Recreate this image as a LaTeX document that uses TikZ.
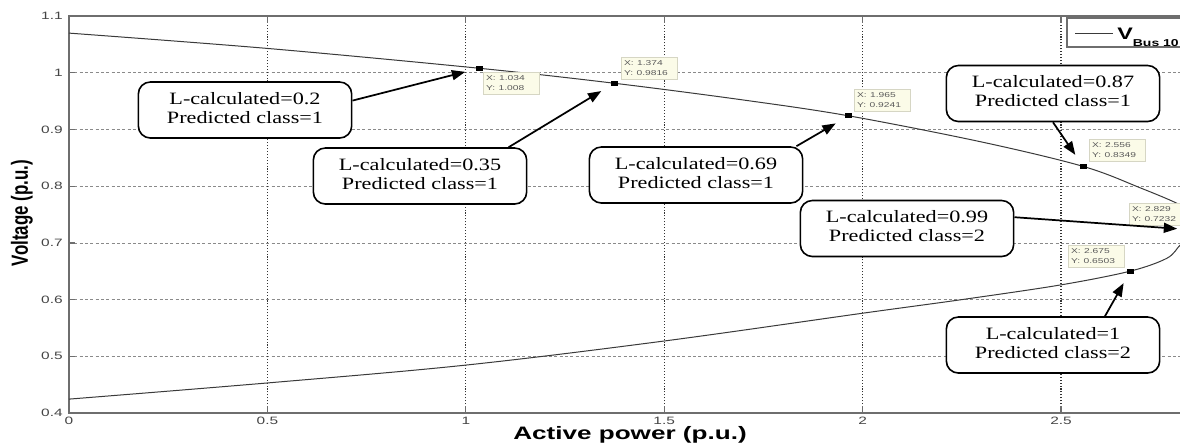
\documentclass[tikz,border=0pt]{standalone}
\usepackage{fontspec}
\setmainfont{Liberation Serif}
\setsansfont{Liberation Sans}
\usetikzlibrary{arrows.meta}

\definecolor{framegray}{HTML}{6E6E6E}
\definecolor{gridgray}{HTML}{8A8A8A}
\definecolor{vgridcol}{HTML}{333333}
\definecolor{curvegray}{HTML}{3A3A3A}
\definecolor{tipfill}{HTML}{FBFBE8}
\definecolor{tipdraw}{HTML}{D6D6C4}
\definecolor{tiptextcol}{HTML}{5A5A5A}
\definecolor{ticktextcol}{HTML}{454545}

\newcommand\boxtext[2]{\scalebox{1.28}[1]{\begin{tabular}{@{}c@{}}#1\\#2\end{tabular}}}
\newcommand\tiptext[2]{\scalebox{1.45}[1]{\begin{tabular}{@{}l@{}}#1\\#2\end{tabular}}}
\newcommand\wideS[1]{\scalebox{1.45}[1]{#1}}

\begin{document}
\begin{tikzpicture}[x=0.75pt,y=-0.75pt,
  lbox/.style={draw=black, line width=1.2pt, rounded corners=9pt, fill=white,
    inner sep=0pt, minimum width=160pt, minimum height=42pt,
    font=\fontsize{13}{14.4}\selectfont},
  arr/.style={line width=1.3pt, -{Triangle[length=10pt,width=7.5pt]}, shorten >=8pt},
  marker/.style={fill=black, draw=none, inner sep=0pt, minimum width=5.25pt, minimum height=3.75pt},
  tip/.style={draw=tipdraw, fill=tipfill, line width=0.6pt, anchor=north west,
    inner xsep=2pt, inner ysep=0pt, text width=38pt, align=left, minimum height=16.5pt,
    text=tiptextcol, font=\sffamily\fontsize{5.3}{7.4}\selectfont},
  hgrid/.style={gridgray, line width=0.6pt, dash pattern=on 2.2pt off 1.8pt},
  vgrid/.style={vgridcol, line width=0.8pt, dash pattern=on 0.8pt off 1.4pt},
  frame/.style={framegray, line width=1pt},
  curve/.style={curvegray, line width=0.75pt},
  ticklab/.style={text=ticktextcol, font=\sffamily\fontsize{8}{9.5}\selectfont, inner sep=1pt},
  axlab/.style={font=\sffamily\bfseries\fontsize{13.5}{16}\selectfont, inner sep=0pt}
]
\useasboundingbox (0,0) rectangle (1180,444);
\clip (0,0) rectangle (1180,444);
\fill[white] (0,0) rectangle (1180,444);

\begin{scope}[shift={(69,639.8)}, x={(297.6pt,0pt)}, y={(0pt,425.25pt)}]
  % grid
  \foreach \v in {0.5,0.6,0.7,0.8,0.9,1.0} \draw[hgrid] (0,\v) -- (3,\v);
  \foreach \p in {0.5,1,1.5,2,2.5} \draw[vgrid] (\p,0.4) -- (\p,1.1);
  % ticks
  \foreach \v in {0.5,0.6,0.7,0.8,0.9,1.0} \draw[frame] (0,\v) -- ++(4.5pt,0pt);
  \foreach \p in {0.5,1,1.5,2,2.5} {
    \draw[frame] (\p,0.4) -- ++(0pt,5pt);
    \draw[frame] (\p,1.1) -- ++(0pt,-5pt);
  }
  % frame
  \draw[frame] (3,1.1) -- (0,1.1) -- (0,0.4) -- (3,0.4);
  % tick labels
  \foreach \v/\t in {1.1/1.1,1.0/1,0.9/0.9,0.8/0.8,0.7/0.7,0.6/0.6,0.5/0.5,0.4/0.4}
    \node[ticklab, anchor=east] at ([xshift=-3.5pt]0,\v) {\wideS{\t}};
  \foreach \p/\t in {0/0,0.5/0.5,1/1,1.5/1.5,2/2,2.5/2.5}
    \node[ticklab, anchor=north] at ([yshift=-2pt]\p,0.4) {\wideS{\t}};
  % PV curve
  \draw[curve] plot[smooth, tension=0.55] coordinates {
    (0,1.070) (0.5,1.043) (1.034,1.008) (1.374,0.9816) (1.7,0.952)
    (1.965,0.9241) (2.3,0.878) (2.556,0.8349) (2.7,0.797) (2.8,0.767)
    (2.828,0.748) (2.836,0.728) (2.826,0.710) (2.8,0.696) (2.767,0.673)
    (2.675,0.6503) (2.5,0.626) (2.25,0.600) (2,0.576) (1.5,0.527) (1,0.4845)
    (0.5,0.453) (0,0.4245)};
  % data markers
  \node[marker] (m1) at (1.034,1.008) {};
  \node[marker] (m2) at (1.374,0.9816) {};
  \node[marker] (m3) at (1.965,0.9241) {};
  \node[marker] (m4) at (2.556,0.8349) {};
  \node[marker] (m5) at (2.829,0.7232) {};
  \node[marker] (m6) at (2.675,0.6503) {};
\end{scope}

% data tips
\node[tip] (t1) at (483,72)  {\tiptext{X: 1.034}{Y: 1.008}};
\node[tip] (t2) at (621,57)  {\tiptext{X: 1.374}{Y: 0.9816}};
\node[tip] (t3) at (854,89)  {\tiptext{X: 1.965}{Y: 0.9241}};
\node[tip] (t4) at (1089,139) {\tiptext{X: 2.556}{Y: 0.8349}};
\node[tip] (t5) at (1129,203) {\tiptext{X: 2.829}{Y: 0.7232}};
\node[tip] (t6) at (1068,245) {\tiptext{X: 2.675}{Y: 0.6503}};

% annotation boxes
\node[lbox] (b1) at (245,110)   {\boxtext{L-calculated=0.2}{Predicted class=1}};
\node[lbox] (b2) at (420,176)   {\boxtext{L-calculated=0.35}{Predicted class=1}};
\node[lbox] (b3) at (696,175)   {\boxtext{L-calculated=0.69}{Predicted class=1}};
\node[lbox] (b4) at (1053,93.5) {\boxtext{L-calculated=0.87}{Predicted class=1}};
\node[lbox] (b5) at (907,228.5) {\boxtext{L-calculated=0.99}{Predicted class=2}};
\node[lbox] (b6) at (1053,345)  {\boxtext{L-calculated=1}{Predicted class=2}};

% arrows
\draw[arr] (b1.5)  -- (m1);
\draw[arr] (b2.18) -- (m2);
\draw[arr] (b3.16) -- (m3);
\draw[arr] (b4.south) -- (m4);
\draw[arr] (b5.6)  -- (m5);
\draw[arr] (b6.29) -- (m6);

% legend
\draw[framegray, line width=0.9pt, fill=white] (1067,18) rectangle (1210,47);
\draw[curve] (1075,33) -- (1113,33);
\node[anchor=base west, inner sep=0pt, font=\sffamily\bfseries] at (1117,39.5)
  {\scalebox{1.4}[1]{\fontsize{12.5}{14}\selectfont V\raisebox{-5pt}{\fontsize{7.5}{9}\selectfont Bus 10}}};

% axis labels
\node[axlab] (xl) at (630,435) {\scalebox{1.45}[1]{Active power (p.u.)}};
\node[axlab, rotate=90, font=\sffamily\bfseries\fontsize{12.7}{15}\selectfont] (yl) at (22,213)
  {\scalebox{1}[1.38]{Voltage (p.u.)}};
\end{tikzpicture}
\end{document}
